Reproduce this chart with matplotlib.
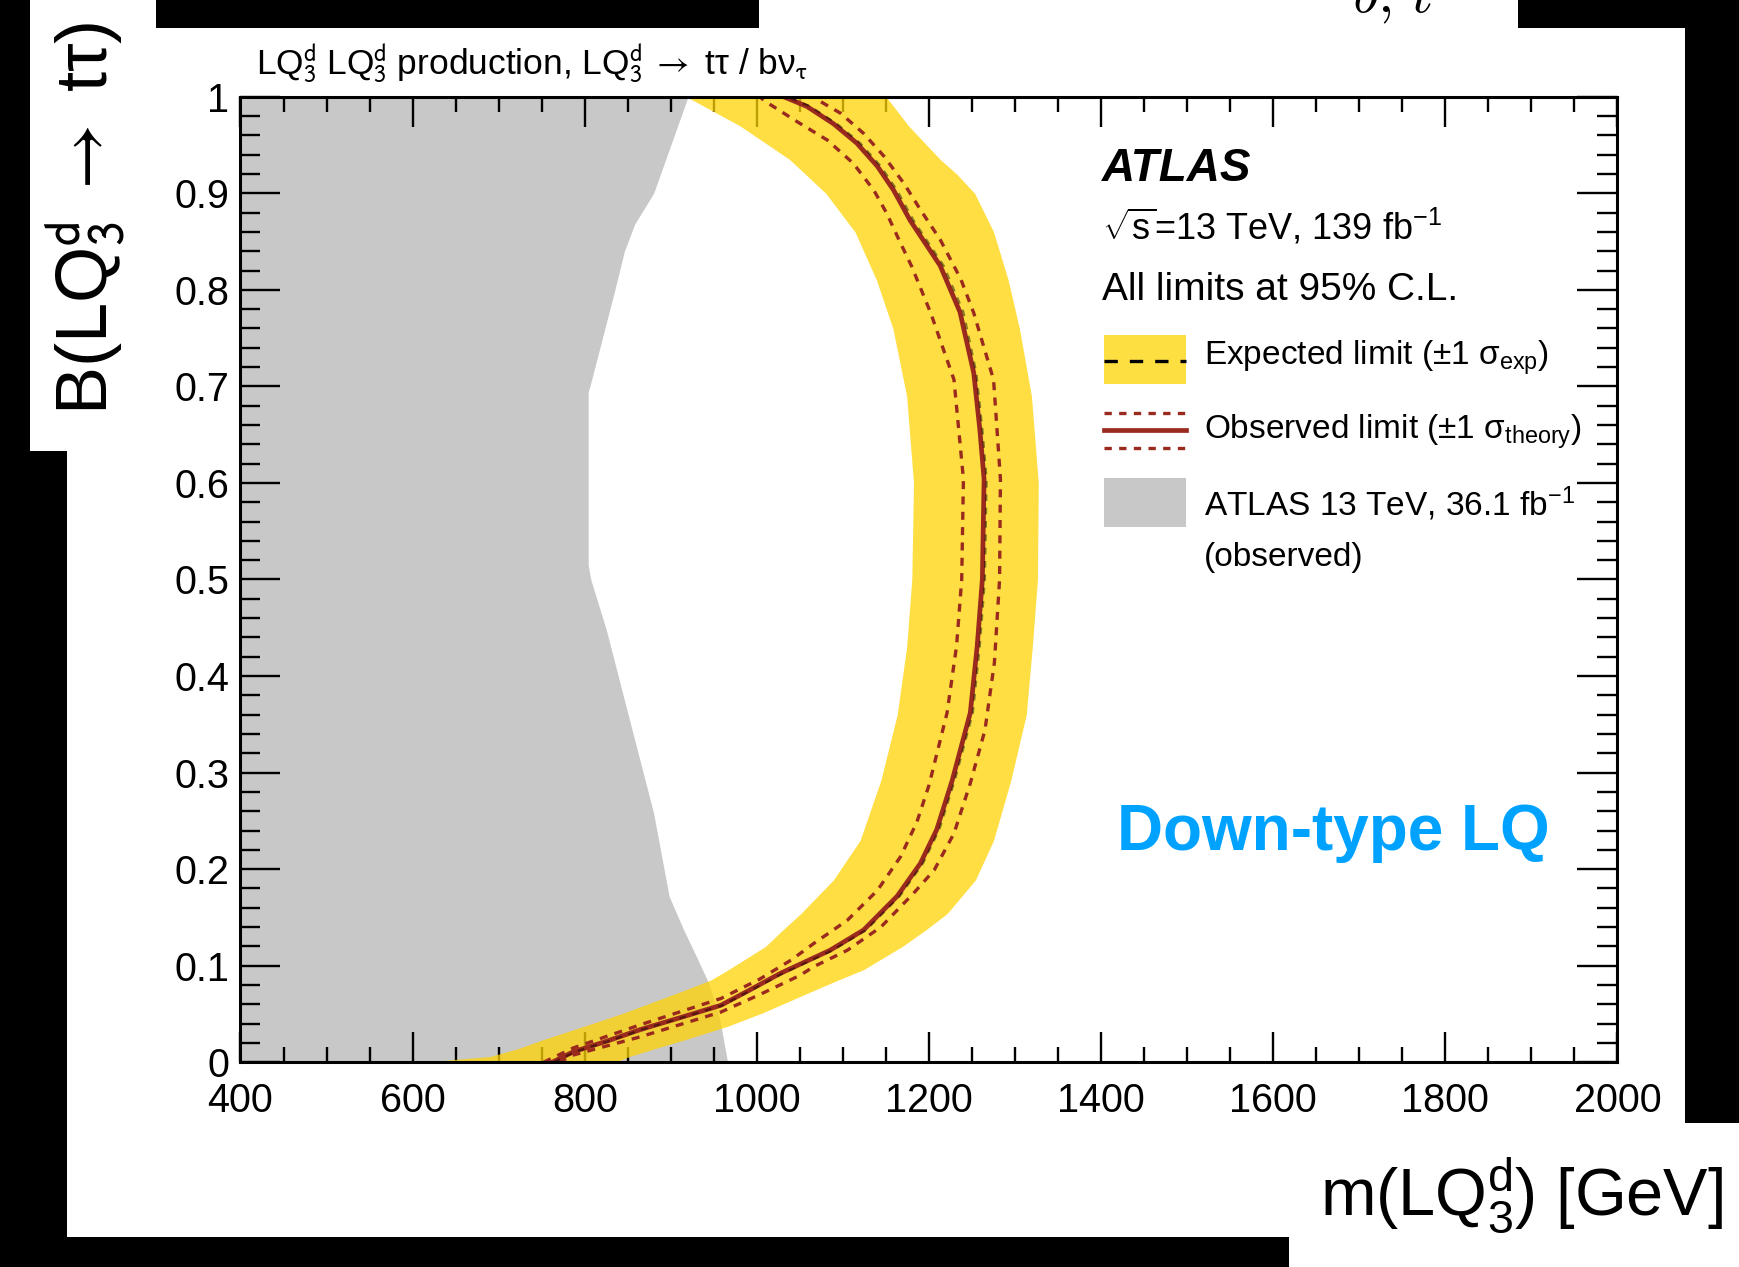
import numpy as np
import matplotlib
matplotlib.use("Agg")
import matplotlib.pyplot as plt
from matplotlib.patches import Rectangle
from matplotlib.lines import Line2D

plt.rcParams['font.family'] = ['Liberation Sans', 'DejaVu Sans']
plt.rcParams['mathtext.fontset'] = 'custom'
plt.rcParams['mathtext.rm'] = 'Liberation Sans'
plt.rcParams['mathtext.it'] = 'Liberation Sans:italic'
plt.rcParams['mathtext.bf'] = 'Liberation Sans:bold'
plt.rcParams['mathtext.sf'] = 'Liberation Sans'

# --- data: (branching ratio B, mass m [GeV]) ---
# observed limit
obs_b = [0.0, 0.011, 0.022, 0.034, 0.046, 0.059, 0.075, 0.092, 0.116, 0.137, 0.172, 0.206,
         0.241, 0.292, 0.362, 0.431, 0.5, 0.604, 0.656, 0.714, 0.777, 0.825, 0.872, 0.903,
         0.928, 0.952, 0.972, 0.990, 1.0]
obs_m = [762, 787, 826, 865, 910, 958, 992, 1027, 1085, 1124, 1163, 1190,
         1209, 1227, 1248, 1256, 1262, 1264, 1259, 1252, 1236, 1213, 1178, 1159,
         1140, 1116, 1089, 1058, 1031]
# expected limit (almost on top of the observed one)
exp_m = [764, 789, 828, 867, 912, 960, 994, 1030, 1088, 1127, 1166, 1193,
         1212, 1230, 1251, 1259, 1265, 1267, 1262, 1255, 1240, 1217, 1182, 1163,
         1144, 1120, 1093, 1062, 1035]

# observed -1 sigma theory
th_lo_b = [0.0, 0.015, 0.039, 0.066, 0.086, 0.106, 0.123, 0.147, 0.178, 0.213, 0.249, 0.287,
           0.362, 0.431, 0.5, 0.604, 0.707, 0.776, 0.824, 0.852, 0.879, 0.903, 0.931, 0.955,
           0.974, 0.995, 1.0]
th_lo_m = [752, 787, 865, 958, 1003, 1040, 1066, 1105, 1140, 1167, 1186, 1200,
           1221, 1232, 1238, 1240, 1229, 1202, 1180, 1165, 1151, 1136, 1112, 1082,
           1047, 1010, 1003]
# observed +1 sigma theory
th_hi_b = [0.0, 0.0076, 0.0265, 0.052, 0.070, 0.090, 0.099, 0.116, 0.140, 0.175, 0.199, 0.237,
           0.289, 0.344, 0.414, 0.5, 0.604, 0.707, 0.776, 0.811, 0.852, 0.883, 0.910, 0.938,
           0.962, 0.983, 0.997, 1.0]
th_hi_m = [770, 787, 865, 958, 1003, 1050, 1066, 1105, 1144, 1182, 1206, 1229,
           1248, 1265, 1276, 1282, 1283, 1275, 1252, 1237, 1213, 1190, 1171, 1148,
           1124, 1097, 1070, 1066]

# expected +-1 sigma band
band_b = [0.0, 0.006, 0.014, 0.023, 0.037, 0.051, 0.072, 0.085, 0.096, 0.12, 0.137, 0.154,
          0.189, 0.23, 0.292, 0.36, 0.43, 0.5, 0.6, 0.69, 0.76, 0.81, 0.86, 0.9, 0.92,
          0.935, 0.97, 1.0]
band_lo = [610, 690, 722, 750, 798, 845, 908, 946, 967, 1010, 1030, 1051,
           1089, 1120, 1144, 1163, 1174, 1180, 1182, 1174, 1158, 1139, 1114, 1080, 1056,
           1038, 980, 918]
band_hi = [835, 852, 881, 915, 965, 1006, 1060, 1094, 1124, 1169, 1196, 1221,
           1254, 1275, 1295, 1313, 1320, 1326, 1327, 1319, 1305, 1292, 1275, 1253, 1232,
           1213, 1176, 1150]

# previous ATLAS 36.1 fb-1 observed exclusion (right edge)
grey_b = [0.0, 0.044, 0.082, 0.109, 0.137, 0.172, 0.258, 0.327, 0.396, 0.448, 0.5, 0.515,
          0.694, 0.707, 0.8, 0.84, 0.868, 0.9, 1.0]
grey_m = [966, 957, 944, 930, 915, 898, 880, 860, 840, 825, 807, 804,
          804, 808, 835, 846, 858, 880, 920]

x_ticks = [400, 600, 800, 1000, 1200, 1400, 1600, 1800, 2000]
x_tick_labels = ['400', '600', '800', '1000', '1200', '1400', '1600', '1800', '2000']
y_ticks = [0, 0.1, 0.2, 0.3, 0.4, 0.5, 0.6, 0.7, 0.8, 0.9, 1.0]
y_tick_labels = ['0', '0.1', '0.2', '0.3', '0.4', '0.5', '0.6', '0.7', '0.8', '0.9', '1']

red = '#9a2a1e'
W, H = 1740, 1267


def fx(x):
    return x / W


def fy(y):
    return 1 - y / H


fig = plt.figure(figsize=(17.4, 12.67), dpi=100)
ax = fig.add_axes([240.5 / W, 1 - 1062.3 / H, 1377 / W, 965.6 / H])

ax.fill_betweenx(grey_b, 400, grey_m, color='#c8c8c8', lw=0, zorder=1)
ax.fill_betweenx(band_b, band_lo, band_hi, color='#fed403', alpha=0.75, lw=0, zorder=2)
ax.plot(th_lo_m, th_lo_b, color=red, lw=2.4, ls=(0, (2.4, 2.2)), zorder=3)
ax.plot(th_hi_m, th_hi_b, color=red, lw=2.4, ls=(0, (2.4, 2.2)), zorder=3)
ax.plot(obs_m, obs_b, color=red, lw=3.4, zorder=4)
ax.plot(exp_m, obs_b, color='black', lw=1.6, ls=(0, (3, 3)), alpha=0.45, zorder=5)

ax.set_xlim(400, 2000)
ax.set_ylim(0, 1)
ax.set_xticks(x_ticks)
ax.set_xticklabels(x_tick_labels)
ax.set_xticks(np.arange(400, 2001, 50), minor=True)
ax.set_yticks(y_ticks)
ax.set_yticklabels(y_tick_labels)
ax.set_yticks(np.arange(0, 1.001, 0.02), minor=True)
ax.tick_params(axis='x', which='major', direction='in', length=21.6, width=1.7,
               top=True, labelsize=28.5, pad=14)
ax.tick_params(axis='x', which='minor', direction='in', length=10.5, width=1.7, top=True)
ax.tick_params(axis='y', which='major', direction='in', length=28.8, width=1.7,
               right=True, labelsize=28.5, pad=8)
ax.tick_params(axis='y', which='minor', direction='in', length=14.5, width=1.7, right=True)
for s in ax.spines.values():
    s.set_linewidth(2.2)
    s.set_zorder(6)

# axis titles
fig.text(fx(86), fy(218), r"B(LQ$_{3}^{\mathrm{d}}\ \rightarrow$ tτ)", rotation=90,
         fontsize=52, ha='center', va='center', math_fontfamily='stixsans')
fig.text(fx(1522), fy(1195), r"m(LQ$_{3}^{\mathrm{d}}$) [GeV]",
         fontsize=48, ha='center', va='center')
fig.text(fx(256), fy(75),
         r"LQ$_{3}^{\mathrm{d}}$ LQ$_{3}^{\mathrm{d}}$ production, LQ$_{3}^{\mathrm{d}}\ \rightarrow$ tτ / bν$_{\mathrm{\tau}}$",
         fontsize=25.5, va='baseline', math_fontfamily='stixsans')

# labels inside the plot
fig.text(fx(1102), fy(181), "ATLAS", fontsize=33, fontweight='bold',
         fontstyle='italic', va='baseline')
fig.text(fx(1102), fy(240), r"$\sqrt{\mathrm{s}}$=13 TeV, 139 fb$^{\mathrm{-1}}$",
         fontsize=26, va='baseline')
fig.text(fx(1102), fy(300), "All limits at 95% C.L.", fontsize=28, va='baseline')
fig.text(fx(1117), fy(850), "Down-type LQ", fontsize=46, fontweight='bold',
         color='#00a2ff', va='baseline')

# legend
fig.add_artist(Rectangle((fx(1104), fy(384)), 82 / W, 49 / H, transform=fig.transFigure,
                         color='#fedf42', lw=0))
fig.add_artist(Line2D([fx(1104), fx(1186)], [fy(361), fy(361)], transform=fig.transFigure,
                      color='black', lw=2.4, ls=(0, (4, 3.6))))
fig.add_artist(Line2D([fx(1104), fx(1186)], [fy(413), fy(413)], transform=fig.transFigure,
                      color=red, lw=2.4, ls=(0, (2.2, 2.2))))
fig.add_artist(Line2D([fx(1104), fx(1186)], [fy(430), fy(430)], transform=fig.transFigure,
                      color=red, lw=3.4))
fig.add_artist(Line2D([fx(1104), fx(1186)], [fy(448), fy(448)], transform=fig.transFigure,
                      color=red, lw=2.4, ls=(0, (2.2, 2.2))))
fig.add_artist(Rectangle((fx(1104), fy(527)), 82 / W, 49 / H, transform=fig.transFigure,
                         color='#c8c8c8', lw=0))
fig.text(fx(1204), fy(365), r"Expected limit (±1 σ$_{\mathrm{exp}}$)", fontsize=24, va='baseline')
fig.text(fx(1204), fy(439), r"Observed limit (±1 σ$_{\mathrm{theory}}$)", fontsize=24, va='baseline')
fig.text(fx(1204), fy(516), r"ATLAS 13 TeV, 36.1 fb$^{\mathrm{-1}}$", fontsize=24, va='baseline')
fig.text(fx(1204), fy(566), "(observed)", fontsize=24, va='baseline')

# cut-off text fragment at the top of the screenshot
fig.text(fx(1352), fy(12), r"$b,\,t$", fontsize=42, va='baseline', math_fontfamily='cm')

# black screenshot borders
for x0, y0, x1, y1 in [(156, 0, 759, 28), (1518, 0, 1740, 28), (1685, 28, 1740, 1123),
                       (0, 0, 30, 451), (0, 451, 67, 1267), (0, 1237, 1289, 1267)]:
    fig.add_artist(Rectangle((fx(x0), fy(y1)), (x1 - x0) / W, (y1 - y0) / H,
                             transform=fig.transFigure, color='black', lw=0, zorder=10))

fig.savefig('out.png', dpi=100)
